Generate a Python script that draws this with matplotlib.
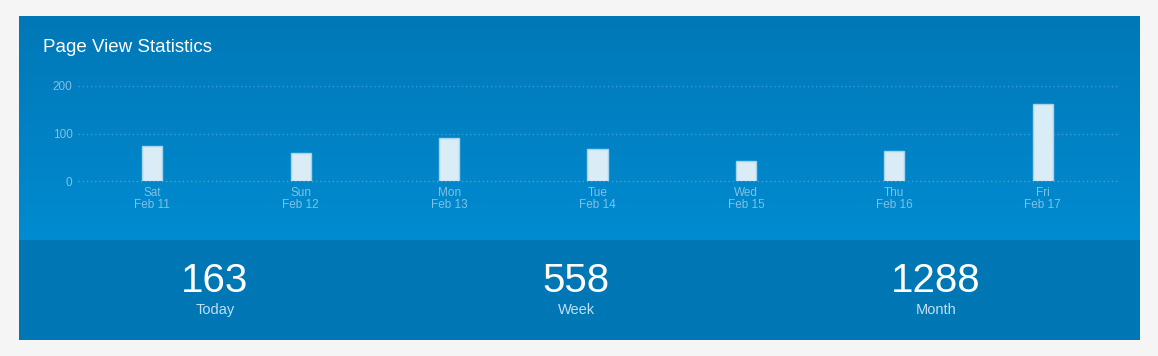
import numpy as np
import matplotlib
matplotlib.use("Agg")
import matplotlib.pyplot as plt
from matplotlib.patches import Rectangle

plt.rcParams['font.family'] = ['Liberation Sans', 'DejaVu Sans']

days = ["Sat", "Sun", "Mon", "Tue", "Wed", "Thu", "Fri"]
dates = ["Feb 11", "Feb 12", "Feb 13", "Feb 14", "Feb 15", "Feb 16", "Feb 17"]
views = [73, 60, 90, 67, 42, 63, 163]
y_ticks = [0, 100, 200]

stat_values = ["163", "558", "1288"]
stat_labels = ["Today", "Week", "Month"]

W, H = 1158, 356
fig = plt.figure(figsize=(W / 100, H / 100), dpi=100)
fig.patch.set_facecolor("#f5f5f5")

# background panel, drawn in pixel coords
bg = fig.add_axes([0, 0, 1, 1])
bg.set_xlim(0, W)
bg.set_ylim(H, 0)
bg.axis("off")
grad = np.linspace(0, 1, 256).reshape(-1, 1)
top = np.array([0x00, 0x78, 0xb7]) / 255
bot = np.array([0x00, 0x8b, 0xd0]) / 255
img = top + (bot - top) * grad[..., None]
bg.imshow(img, extent=(19, 1140, 240, 16), aspect="auto", interpolation="bilinear")
bg.add_patch(Rectangle((19, 240), 1121, 100, color="#0077b5", lw=0))
bg.text(43, 47.5, "Page View Statistics", color="white", fontsize=13.5,
        va="center", ha="left")

stat_x = [215, 576, 936]
for x, v, l in zip(stat_x, stat_values, stat_labels):
    bg.text(x, 281, v, color="white", fontsize=29, ha="center", va="center")
    bg.text(x, 310, l, color="#bfe0f3", fontsize=10.5, ha="center", va="center")

ax = fig.add_axes([78 / W, 1 - 181 / H, 1039 / W, 95 / H])
ax.patch.set_alpha(0)
x = np.arange(len(days))
ax.bar(x, views, width=0.135, color="#daedf7", edgecolor="#a6d3ee", lw=1, zorder=3)
ax.set_xlim(-0.5, len(days) - 0.5)
ax.set_ylim(0, 200)
ax.set_yticks(y_ticks)
ax.set_xticks(x)
ax.set_xticklabels([d + "\n" + dt for d, dt in zip(days, dates)], linespacing=1.0)
for yv in y_ticks:
    ax.axhline(yv, color="#ffffff", alpha=0.25, lw=1, ls=(0, (1, 2)),
               clip_on=False, zorder=1)
for s in ax.spines.values():
    s.set_visible(False)
ax.tick_params(length=0, colors="#80c1e6", labelsize=8.5)
ax.tick_params(axis="x", pad=4)
ax.tick_params(axis="y", pad=4)

fig.savefig("out.png", dpi=100, facecolor=fig.get_facecolor())
